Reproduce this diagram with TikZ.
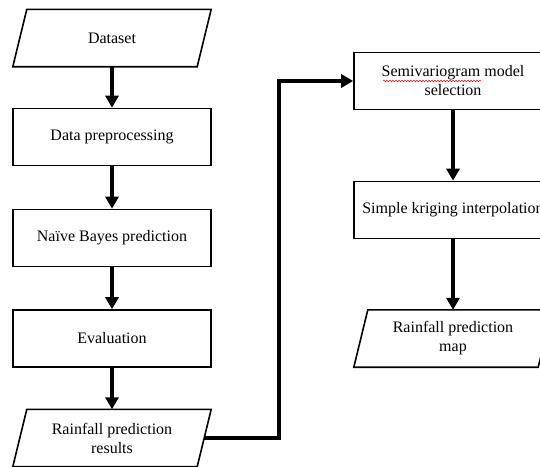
\documentclass[tikz,border=0pt]{standalone}
\usepackage{fontspec}
\setmainfont{Liberation Serif}
\usetikzlibrary{arrows.meta,decorations.pathmorphing}
\tikzset{
  box/.style={draw=black, line width=1.6pt, minimum width=198pt, minimum height=57pt,
    inner sep=0pt, align=center, font=\fontsize{16}{19}\selectfont},
  iobox/.style={draw=none, minimum width=198pt, minimum height=57pt,
    inner sep=0pt, align=center, font=\fontsize{16}{19}\selectfont},
  ioline/.style={line width=1.6pt, line join=miter},
  flow/.style={line width=3.6pt, -{Triangle[length=12pt,width=13pt]}},
}
\begin{document}
\begin{tikzpicture}[x=1pt,y=-1pt]
\useasboundingbox (0,0) rectangle (540,466);
% left column
\node[iobox] (ds) at (112,38) {Dataset};
\node[box] (pre) at (112,137) {Data preprocessing};
\node[box] (nb) at (112,238) {Naïve Bayes prediction};
\node[box] (ev) at (112,338.5) {Evaluation};
\node[iobox] (res) at (112,438) {Rainfall prediction\\results};
% right column
\node[box] (sv) at (453,81) {Semivariogram model\\selection};
\node[box] (sk) at (453,210) {Simple kriging interpolation};
\node[iobox] (map) at (453,338.5) {Rainfall prediction\\map};
% parallelogram outlines
\foreach \n in {ds,res,map}{
  \draw[ioline] ([xshift=14pt]\n.north west) -- (\n.north east)
    -- ([xshift=-14pt]\n.south east) -- (\n.south west) -- cycle;
}
% spell-check underline
\coordinate (u1) at (383,81);
\coordinate (u2) at (481,81);
\draw[red, line width=0.5pt, decorate, decoration={snake, amplitude=0.7pt, segment length=3pt}] (u1) -- (u2);
% connectors
\draw[flow] (ds.south) -- (pre.north);
\draw[flow] (pre.south) -- (nb.north);
\draw[flow] (nb.south) -- (ev.north);
\draw[flow] (ev.south) -- (res.north);
\coordinate (rout) at ([xshift=-7pt]res.east);
\draw[flow, line join=miter] (rout) -- (279,438) |- (sv.west);
\draw[flow] (sv.south) -- (sk.north);
\draw[flow] (sk.south) -- (map.north);
\end{tikzpicture}
\end{document}
